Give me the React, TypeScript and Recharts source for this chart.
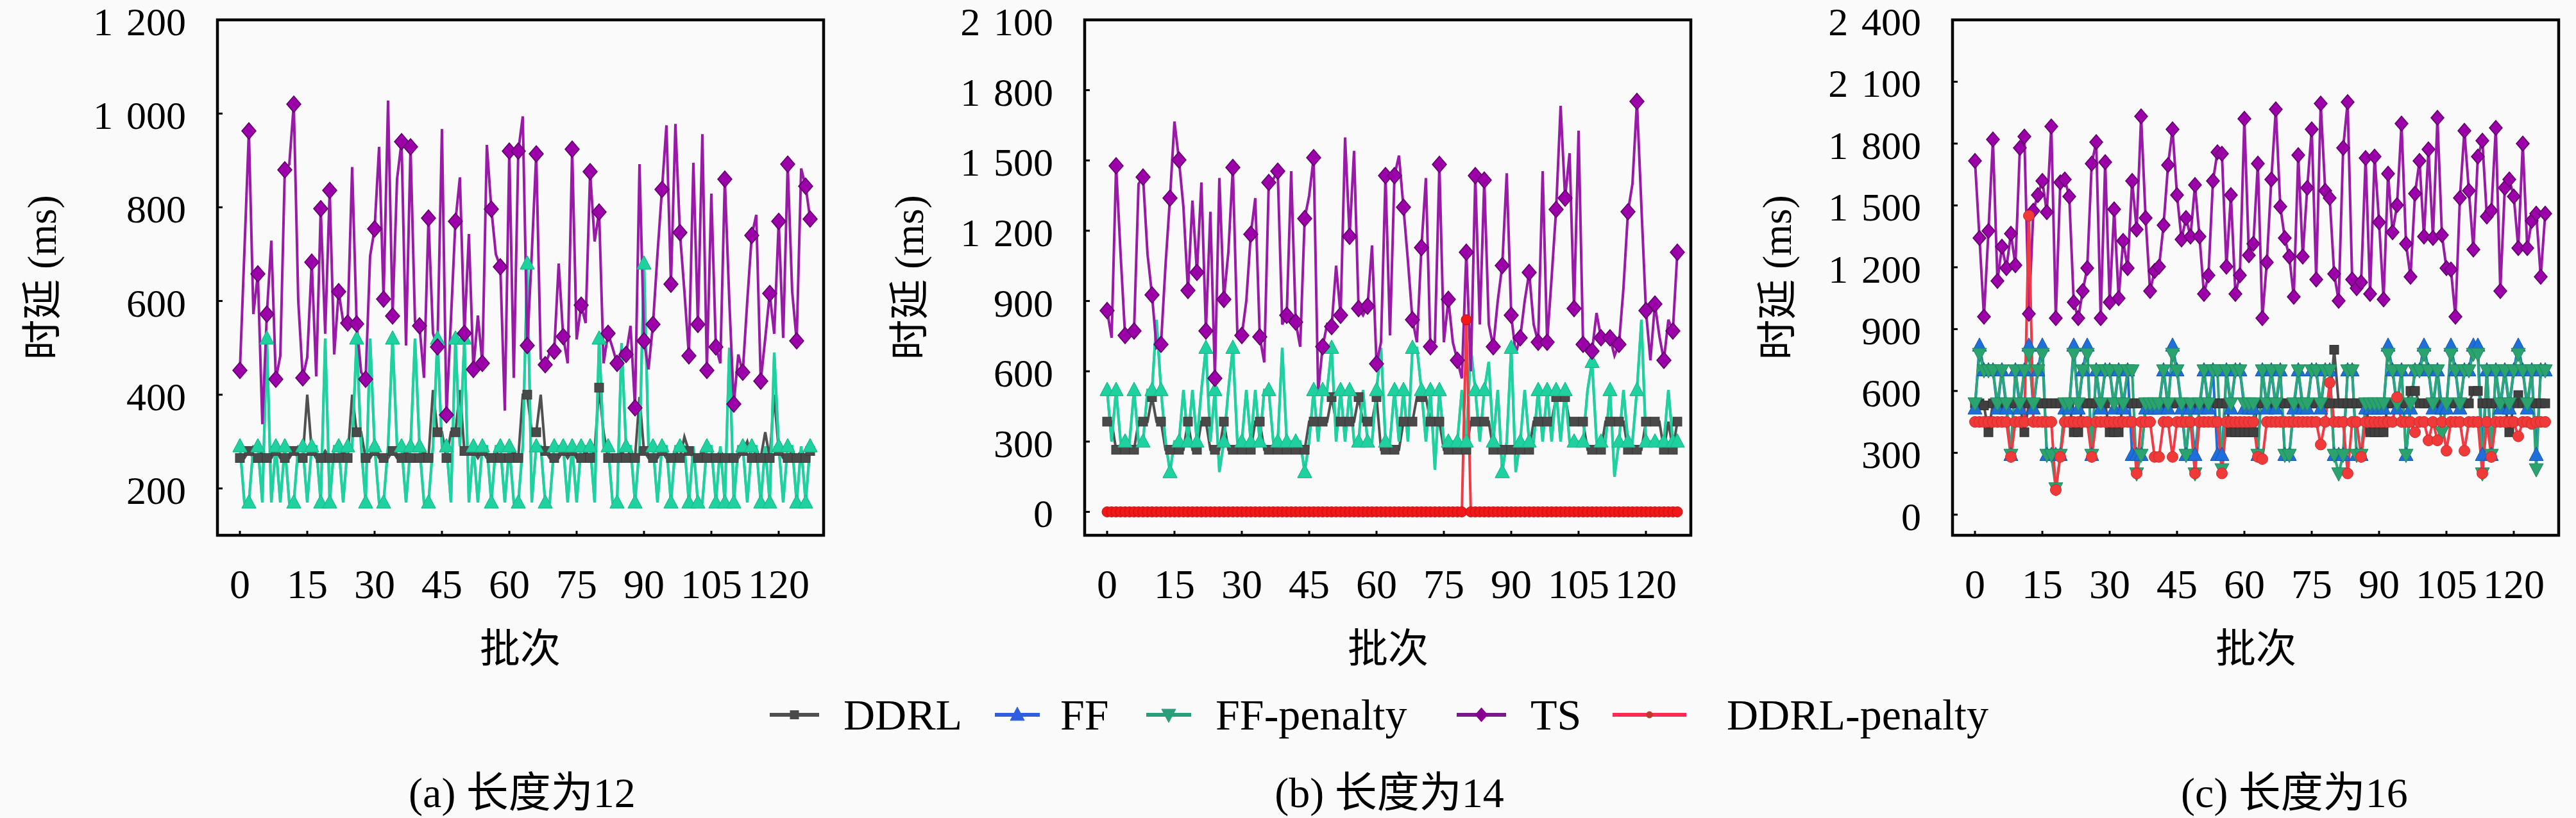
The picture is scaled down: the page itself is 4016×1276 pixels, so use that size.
import React from 'react';
import { LineChart, Line, XAxis, YAxis, ReferenceArea } from 'recharts';

// batch index 0..127 (x axis)
const BATCHES = Array.from({ length: 128 }, (_, i) => i);
const X_TICKS = [0, 15, 30, 45, 60, 75, 90, 105, 120];

// ---- (a) length 12 ----
const TS_A = [
  452, 705, 963, 572, 658, 337, 572, 729, 433, 483, 880, 892, 1020, 600, 436, 480,
  683, 439, 797, 530, 836, 486, 620, 556, 553, 886, 551, 448, 433, 696, 754, 929,
  604, 1028, 568, 860, 940, 505, 929, 556, 547, 436, 777, 531, 502, 967, 357, 560,
  770, 864, 531, 743, 454, 569, 467, 933, 796, 700, 673, 366, 920, 436, 920, 994,
  505, 700, 914, 477, 464, 490, 493, 680, 524, 467, 924, 518, 591, 553, 876, 727,
  790, 467, 531, 500, 467, 493, 486, 547, 372, 892, 515, 454, 550, 700, 838, 975,
  636, 978, 746, 620, 483, 895, 550, 956, 452, 829, 502, 467, 860, 600, 380, 486,
  448, 600, 740, 784, 429, 520, 616, 530, 770, 521, 892, 620, 515, 883, 845, 775,
];
const FFP_A = [
  290, 170, 170, 290, 290, 170, 520, 170, 290, 170, 290, 170, 170, 290, 290, 170,
  290, 290, 170, 520, 170, 290, 290, 170, 290, 290, 520, 290, 170, 520, 290, 170,
  170, 290, 520, 290, 290, 170, 290, 520, 290, 170, 170, 290, 520, 290, 290, 170,
  520, 290, 520, 170, 290, 170, 290, 290, 170, 290, 290, 170, 290, 170, 170, 290,
  680, 170, 290, 290, 170, 170, 290, 290, 290, 170, 290, 170, 290, 290, 290, 170,
  520, 290, 290, 170, 170, 510, 290, 290, 170, 290, 680, 290, 290, 170, 290, 290,
  170, 290, 290, 290, 170, 290, 170, 170, 290, 290, 170, 290, 170, 500, 170, 290,
  290, 170, 290, 290, 170, 290, 170, 490, 290, 170, 290, 290, 170, 290, 170, 290,
];
// FF sits exactly under FF-penalty in (a)
const FF_A = FFP_A;
const DDRL_A = [
  265, 265, 280, 265, 265, 280, 265, 265, 280, 265, 265, 265, 280, 265, 265, 400,
  280, 265, 265, 280, 265, 265, 265, 280, 265, 400, 320, 320, 265, 265, 280, 265,
  265, 265, 280, 265, 265, 280, 265, 265, 265, 280, 265, 410, 320, 320, 265, 320,
  320, 410, 280, 280, 280, 265, 280, 265, 265, 280, 265, 265, 265, 280, 265, 400,
  400, 320, 320, 400, 280, 265, 265, 265, 280, 265, 280, 265, 265, 280, 265, 280,
  415, 320, 265, 265, 265, 280, 265, 280, 265, 395, 280, 265, 265, 265, 280, 265,
  265, 280, 265, 310, 280, 265, 265, 280, 265, 265, 265, 280, 265, 265, 265, 265,
  280, 300, 265, 280, 265, 320, 265, 400, 280, 265, 265, 280, 265, 280, 265, 280,
];

// ---- (b) length 14 ----
const TS_B = [
  859, 743, 1477, 1100, 753, 760, 772, 1400, 1429, 1100, 926, 700, 715, 1050, 1339, 1666,
  1502, 1300, 945, 1329, 1022, 1406, 772, 1281, 570, 1425, 907, 1108, 1470, 763, 753, 900,
  1185, 1339, 747, 638, 1406, 1420, 1454, 800, 839, 1454, 810, 705, 1252, 1350, 1512, 513,
  705, 801, 791, 1051, 839, 1598, 1176, 1541, 868, 839, 878, 1137, 632, 724, 1435, 753,
  1435, 1521, 1300, 1070, 820, 724, 1128, 1425, 705, 724, 1483, 724, 907, 724, 647, 570,
  1108, 600, 1435, 800, 1416, 801, 705, 900, 1051, 1445, 839, 676, 743, 900, 1022, 800,
  724, 1454, 724, 1000, 1291, 1733, 1339, 1531, 868, 1627, 715, 724, 686, 849, 743, 753,
  743, 667, 715, 955, 1281, 1400, 1752, 1300, 859, 647, 887, 750, 647, 820, 772, 1108,
];
const FFP_B = [
  520, 300, 520, 300, 300, 300, 520, 300, 300, 520, 520, 820, 520, 300, 170, 300,
  300, 520, 300, 520, 300, 520, 700, 300, 520, 170, 300, 520, 700, 300, 300, 520,
  300, 520, 300, 520, 520, 300, 300, 700, 300, 300, 300, 300, 170, 300, 520, 300,
  520, 520, 700, 300, 520, 300, 520, 300, 300, 520, 300, 300, 520, 700, 300, 300,
  520, 300, 520, 300, 700, 700, 520, 300, 520, 180, 520, 300, 300, 300, 300, 520,
  300, 700, 520, 300, 520, 640, 300, 520, 170, 300, 700, 170, 300, 520, 300, 300,
  520, 300, 520, 300, 520, 300, 520, 300, 300, 300, 300, 520, 640, 300, 300, 300,
  520, 150, 300, 520, 300, 300, 520, 820, 300, 300, 300, 300, 300, 520, 300, 300,
];
const FF_B = FFP_B;
const DDRL_B = [
  385, 385, 265, 265, 265, 265, 265, 385, 385, 385, 490, 385, 385, 265, 265, 265,
  265, 265, 385, 265, 265, 385, 385, 265, 265, 265, 385, 265, 265, 265, 265, 265,
  265, 385, 385, 265, 265, 265, 265, 265, 265, 265, 265, 265, 265, 385, 385, 385,
  385, 385, 490, 385, 385, 385, 385, 385, 490, 385, 385, 385, 490, 265, 265, 265,
  265, 265, 385, 385, 385, 490, 490, 490, 385, 385, 385, 265, 265, 265, 265, 265,
  265, 385, 385, 385, 385, 385, 265, 265, 265, 265, 265, 265, 265, 265, 265, 385,
  385, 385, 385, 385, 490, 490, 490, 385, 385, 385, 385, 265, 265, 265, 265, 385,
  385, 385, 385, 385, 265, 265, 265, 265, 385, 385, 385, 385, 265, 385, 265, 385,
];
const DDRLP_B = [
  0, 0, 0, 0, 0, 0, 0, 0, 0, 0, 0, 0, 0, 0, 0, 0,
  0, 0, 0, 0, 0, 0, 0, 0, 0, 0, 0, 0, 0, 0, 0, 0,
  0, 0, 0, 0, 0, 0, 0, 0, 0, 0, 0, 0, 0, 0, 0, 0,
  0, 0, 0, 0, 0, 0, 0, 0, 0, 0, 0, 0, 0, 0, 0, 0,
  0, 0, 0, 0, 0, 0, 0, 0, 0, 0, 0, 0, 0, 0, 0, 0,
  820, 0, 0, 0, 0, 0, 0, 0, 0, 0, 0, 0, 0, 0, 0, 0,
  0, 0, 0, 0, 0, 0, 0, 0, 0, 0, 0, 0, 0, 0, 0, 0,
  0, 0, 0, 0, 0, 0, 0, 0, 0, 0, 0, 0, 0, 0, 0, 0,
];

// ---- (c) length 16 ----
const TS_C = [
  1716, 1342, 960, 1376, 1820, 1134, 1300, 1196, 1363, 1210, 1779, 1834, 974, 1474, 1550, 1619,
  1467, 1883, 953, 1612, 1626, 1543, 1030, 953, 1085, 1196, 1703, 1807, 953, 1710, 1030, 1481,
  1050, 1328, 1196, 1619, 1383, 1932, 1439, 1085, 1182, 1203, 1404, 1696, 1869, 1550, 1335, 1439,
  1349, 1599, 1349, 1071, 1161, 1619, 1758, 1751, 1203, 1550, 1071, 1161, 1920, 1258, 1314, 1703,
  953, 1224, 1626, 1966, 1494, 1342, 1252, 1057, 1744, 1252, 1585, 1869, 1141, 1994, 1571, 1536,
  1168, 1037, 1779, 2001, 1141, 1099, 1127, 1730, 1071, 1737, 1418, 1044, 1654, 1370, 1501, 1897,
  1314, 1154, 1557, 1716, 1349, 1772, 1342, 1925, 1356, 1196, 1189, 960, 1536, 1862, 1571, 1286,
  1737, 1814, 1446, 1474, 1876, 1085, 1585, 1626, 1543, 1293, 1800, 1293, 1425, 1460, 1154, 1460,
];
const FFP_C = [
  540, 780, 700, 700, 700, 540, 700, 540, 290, 700, 540, 700, 780, 540, 700, 780,
  290, 290, 128, 290, 540, 540, 780, 540, 700, 780, 290, 700, 540, 700, 700, 540,
  700, 540, 700, 700, 200, 290, 540, 540, 540, 540, 700, 540, 780, 700, 540, 290,
  540, 200, 540, 700, 540, 700, 700, 220, 700, 540, 700, 700, 540, 540, 540, 290,
  700, 540, 700, 540, 700, 290, 290, 540, 700, 540, 540, 700, 700, 540, 700, 700,
  290, 200, 290, 700, 700, 290, 290, 540, 540, 540, 540, 540, 780, 700, 540, 700,
  290, 540, 700, 700, 780, 700, 540, 700, 400, 540, 780, 700, 540, 700, 700, 780,
  780, 200, 700, 290, 700, 540, 700, 540, 700, 780, 700, 540, 700, 220, 700, 700,
];
const FF_C = [
  515, 820, 700, 700, 700, 515, 700, 515, 290, 700, 515, 700, 820, 515, 700, 820,
  290, 290, 290, 290, 515, 515, 820, 515, 700, 820, 290, 700, 515, 700, 700, 515,
  700, 515, 700, 290, 290, 290, 515, 515, 515, 515, 700, 515, 820, 700, 515, 290,
  515, 290, 515, 700, 515, 700, 290, 290, 700, 515, 700, 700, 515, 515, 515, 290,
  700, 515, 700, 515, 700, 290, 290, 515, 700, 515, 515, 700, 700, 515, 700, 700,
  290, 290, 290, 700, 700, 290, 290, 515, 515, 515, 515, 515, 820, 700, 515, 700,
  290, 515, 700, 700, 820, 700, 515, 700, 515, 515, 820, 700, 515, 700, 700, 820,
  820, 290, 700, 290, 700, 515, 700, 515, 700, 820, 700, 515, 700, 290, 700, 700,
];
const DDRL_C = [
  540, 540, 530, 400, 540, 540, 540, 540, 540, 540, 540, 400, 540, 540, 540, 540,
  540, 540, 540, 540, 540, 540, 400, 400, 540, 540, 540, 540, 540, 540, 400, 400,
  400, 540, 540, 540, 540, 540, 540, 540, 540, 540, 540, 540, 540, 540, 540, 540,
  540, 540, 540, 540, 540, 540, 540, 540, 540, 400, 400, 400, 400, 400, 400, 540,
  540, 540, 540, 540, 540, 540, 540, 540, 540, 540, 540, 540, 540, 540, 540, 540,
  800, 540, 540, 540, 540, 540, 540, 540, 400, 400, 400, 400, 540, 540, 540, 540,
  540, 600, 600, 540, 540, 540, 540, 540, 540, 540, 540, 540, 540, 540, 540, 600,
  600, 540, 540, 540, 540, 540, 540, 400, 540, 580, 540, 540, 540, 540, 540, 540,
];
const DDRLP_C = [
  450, 450, 450, 450, 450, 450, 450, 450, 280, 450, 450, 450, 1450, 450, 450, 450,
  450, 450, 120, 280, 450, 450, 450, 450, 450, 450, 280, 450, 450, 450, 450, 450,
  450, 450, 450, 450, 200, 450, 450, 450, 280, 280, 450, 450, 280, 450, 450, 450,
  450, 200, 450, 450, 450, 450, 450, 200, 450, 450, 450, 450, 450, 450, 450, 280,
  270, 450, 450, 450, 450, 450, 450, 450, 450, 450, 450, 450, 450, 340, 450, 640,
  450, 450, 450, 200, 450, 450, 280, 450, 450, 450, 450, 450, 450, 450, 570, 450,
  450, 450, 400, 450, 450, 360, 450, 360, 450, 310, 450, 450, 450, 310, 450, 450,
  450, 200, 450, 280, 450, 450, 450, 450, 450, 380, 450, 450, 440, 450, 450, 450,
];

const SERIF = "'Liberation Serif', 'Noto Sans CJK SC', serif";
const BG = '#fafafa';

type Shape = 'square' | 'up' | 'down' | 'diamond' | 'circle';

function drawMarker(shape: Shape, cx: number, cy: number, size: number, fill: string, stroke: string, key?: string) {
  const s = size;
  switch (shape) {
    case 'square':
      return <rect key={key} x={cx - s / 2} y={cy - s / 2} width={s} height={s} fill={fill} stroke={stroke} strokeWidth={1} />;
    case 'up':
      return <polygon key={key} points={`${cx},${cy - s * 0.55} ${cx - s / 2},${cy + s * 0.4} ${cx + s / 2},${cy + s * 0.4}`} fill={fill} stroke={stroke} strokeWidth={1} />;
    case 'down':
      return <polygon key={key} points={`${cx},${cy + s * 0.55} ${cx - s / 2},${cy - s * 0.4} ${cx + s / 2},${cy - s * 0.4}`} fill={fill} stroke={stroke} strokeWidth={1} />;
    case 'diamond':
      return <polygon key={key} points={`${cx},${cy - s * 0.58} ${cx + s / 2},${cy} ${cx},${cy + s * 0.58} ${cx - s / 2},${cy}`} fill={fill} stroke={stroke} strokeWidth={1.5} />;
    default:
      return <circle key={key} cx={cx} cy={cy} r={s / 2} fill={fill} stroke={stroke} strokeWidth={1} />;
  }
}

interface SeriesDef {
  key: string;
  values: number[];
  line: string;
  fill: string;
  edge: string;
  shape: Shape;
  size: number;
  every?: boolean; // marker on every point
}

interface PanelProps {
  left: number;
  yDomain: [number, number];
  yTicks: number[];
  series: SeriesDef[];
  everyPoint: boolean;
}

const fmtY = (v: number) => (v >= 1000 ? `${Math.floor(v / 1000)}\u2004${String(v % 1000).padStart(3, '0')}` : String(v));

const XTick = (props: any) => {
  const { x, y, payload } = props;
  return (
    <g>
      <line x1={x} y1={y} x2={x} y2={y - 7} stroke="#000" strokeWidth={3} />
      <text x={x} y={y + 98} textAnchor="middle" fontSize={64} fontFamily={SERIF} fill="#000">
        {payload.value}
      </text>
    </g>
  );
};

const YTick = (props: any) => {
  const { x, y, payload } = props;
  return (
    <g>
      <line x1={x} y1={y} x2={x + 8} y2={y} stroke="#000" strokeWidth={3} />
      <text x={x - 49} y={y + 24} textAnchor="end" fontSize={62} fontFamily={SERIF} fill="#000">
        {fmtY(payload.value)}
      </text>
    </g>
  );
};

const Panel: React.FC<PanelProps> = ({ left, yDomain, yTicks, series, everyPoint }) => {
  const rows = BATCHES.map((b, i) => {
    const row: Record<string, number> = { batch: b };
    series.forEach((s) => {
      row[s.key] = s.values[i];
    });
    return row;
  });
  const last = BATCHES.length - 1;

  return (
    <div style={{ position: 'absolute', left, top: 0 }}>
      <LineChart width={1340} height={1000} data={rows} margin={{ top: 31, right: 56, bottom: 45, left: 39 }}>
        <XAxis
          dataKey="batch"
          type="number"
          domain={[-5, 130]}
          ticks={X_TICKS}
          interval={0}
          allowDataOverflow
          axisLine={false}
          tickLine={false}
          tickSize={0}
          tickMargin={0}
          height={120}
          tick={<XTick />}
        />
        <YAxis
          type="number"
          domain={yDomain}
          ticks={yTicks}
          interval={0}
          allowDataOverflow
          axisLine={false}
          tickLine={false}
          tickSize={0}
          tickMargin={0}
          width={300}
          tick={<YTick />}
        />
        {series.map((s) => (
          <Line
            key={s.key}
            dataKey={s.key}
            type="linear"
            stroke={s.line}
            strokeWidth={4}
            isAnimationActive={false}
            activeDot={false}
            dot={(p: any) => {
              const show = everyPoint || s.every || p.index % 2 === 0 || p.index === last;
              if (!show || p.cx == null || p.cy == null) return <g key={`${s.key}-${p.index}`} />;
              return drawMarker(s.shape, p.cx, p.cy, s.size, s.fill, s.edge, `${s.key}-${p.index}`);
            }}
          />
        ))}
        <ReferenceArea x1={-5} x2={130} y1={yDomain[0]} y2={yDomain[1]} fill="none" stroke="#000" strokeWidth={4.5} />
      </LineChart>
    </div>
  );
};

const GRAY = '#505050';
const MINT = '#1fd19e';
const PURPLE = '#9a1aa8';
const RED = '#f23a45';

const PANEL_A: SeriesDef[] = [
  { key: 'ddrl', values: DDRL_A, line: GRAY, fill: '#4a4a4a', edge: '#3a3a3a', shape: 'square', size: 14 },
  { key: 'ff', values: FF_A, line: MINT, fill: MINT, edge: MINT, shape: 'up', size: 22 },
  { key: 'ffp', values: FFP_A, line: MINT, fill: MINT, edge: '#17b888', shape: 'up', size: 22 },
  { key: 'ts', values: TS_A, line: PURPLE, fill: '#9c00a8', edge: '#5e0068', shape: 'diamond', size: 22 },
];
const PANEL_B: SeriesDef[] = [
  { key: 'ddrl', values: DDRL_B, line: GRAY, fill: '#4a4a4a', edge: '#3a3a3a', shape: 'square', size: 14 },
  { key: 'ff', values: FF_B, line: MINT, fill: MINT, edge: MINT, shape: 'up', size: 22 },
  { key: 'ffp', values: FFP_B, line: MINT, fill: MINT, edge: '#17b888', shape: 'up', size: 22 },
  { key: 'ts', values: TS_B, line: PURPLE, fill: '#9c00a8', edge: '#5e0068', shape: 'diamond', size: 22 },
  { key: 'ddrlp', values: DDRLP_B, line: RED, fill: '#f01818', edge: '#c01010', shape: 'circle', size: 16, every: true },
];
const PANEL_C: SeriesDef[] = [
  { key: 'ddrl', values: DDRL_C, line: GRAY, fill: '#404040', edge: '#303030', shape: 'square', size: 14 },
  { key: 'ff', values: FF_C, line: '#1e6fdc', fill: '#1e6fdc', edge: '#1556b0', shape: 'up', size: 22 },
  { key: 'ffp', values: FFP_C, line: '#2ba678', fill: '#2aa36e', edge: '#1f8a5a', shape: 'down', size: 22 },
  { key: 'ts', values: TS_C, line: PURPLE, fill: '#9c00a8', edge: '#5e0068', shape: 'diamond', size: 20 },
  { key: 'ddrlp', values: DDRLP_C, line: RED, fill: '#f03a3a', edge: '#d02a2a', shape: 'circle', size: 17 },
];

const LEGEND = [
  { label: 'DDRL', x0: 1200, x1: 1277, tx: 1315, line: GRAY, fill: '#4a4a4a', shape: 'square' as Shape, size: 13 },
  { label: 'FF', x0: 1551, x1: 1621, tx: 1653, line: '#2f5fe0', fill: '#2f5fe0', shape: 'up' as Shape, size: 22 },
  { label: 'FF-penalty', x0: 1787, x1: 1857, tx: 1895, line: '#2a9d7a', fill: '#2a9d7a', shape: 'down' as Shape, size: 22 },
  { label: 'TS', x0: 2271, x1: 2348, tx: 2386, line: '#7a1a8a', fill: '#8a0090', shape: 'diamond' as Shape, size: 18 },
  { label: 'DDRL-penalty', x0: 2514, x1: 2629, tx: 2692, line: '#ff2a55', fill: '#c0392b', shape: 'circle' as Shape, size: 10 },
];

const CAPTIONS = [
  { text: '(a) 长度为12', cx: 814 },
  { text: '(b) 长度为14', cx: 2166 },
  { text: '(c) 长度为16', cx: 3577 },
];
const PANEL_CENTERS = [811, 2164, 3517];
const PANEL_LEFTS = [0, 1352, 2705];

const App: React.FC = () => {
  return (
    <div style={{ position: 'absolute', left: 0, top: 0, width: 4016, height: 1276, background: BG, overflow: 'hidden', fontFamily: SERIF }}>
      <Panel left={PANEL_LEFTS[0]} yDomain={[100, 1200]} yTicks={[200, 400, 600, 800, 1000, 1200]} series={PANEL_A} everyPoint={false} />
      <Panel left={PANEL_LEFTS[1]} yDomain={[-100, 2100]} yTicks={[0, 300, 600, 900, 1200, 1500, 1800, 2100]} series={PANEL_B} everyPoint={false} />
      <Panel left={PANEL_LEFTS[2]} yDomain={[-100, 2400]} yTicks={[0, 300, 600, 900, 1200, 1500, 1800, 2100, 2400]} series={PANEL_C} everyPoint={true} />

      {PANEL_LEFTS.map((pl, i) => (
        <React.Fragment key={`titles-${i}`}>
          <div
            style={{
              position: 'absolute',
              left: pl + 66,
              top: 433,
              transform: 'translate(-50%, -50%) rotate(-90deg)',
              fontSize: 63,
              lineHeight: 1,
              whiteSpace: 'nowrap',
            }}
          >
            时延 (ms)
          </div>
          <div
            style={{
              position: 'absolute',
              left: PANEL_CENTERS[i],
              top: 1012,
              transform: 'translate(-50%, -50%)',
              fontSize: 63,
              lineHeight: 1,
              whiteSpace: 'nowrap',
            }}
          >
            批次
          </div>
        </React.Fragment>
      ))}

      {LEGEND.map((item) => (
        <React.Fragment key={item.label}>
          <svg style={{ position: 'absolute', left: item.x0, top: 1095 }} width={item.x1 - item.x0} height={40}>
            <line x1={0} y1={20} x2={item.x1 - item.x0} y2={20} stroke={item.line} strokeWidth={6} />
            {drawMarker(item.shape, (item.x1 - item.x0) / 2, 20, item.size, item.fill, item.fill)}
          </svg>
          <div
            style={{
              position: 'absolute',
              left: item.tx,
              top: 1115,
              transform: 'translateY(-50%)',
              fontSize: 68,
              lineHeight: 1,
              whiteSpace: 'nowrap',
            }}
          >
            {item.label}
          </div>
        </React.Fragment>
      ))}

      {CAPTIONS.map((c) => (
        <div
          key={c.text}
          style={{
            position: 'absolute',
            left: c.cx,
            top: 1237,
            transform: 'translate(-50%, -50%)',
            fontSize: 66,
            lineHeight: 1,
            whiteSpace: 'nowrap',
          }}
        >
          {c.text}
        </div>
      ))}
    </div>
  );
};

export default App;
